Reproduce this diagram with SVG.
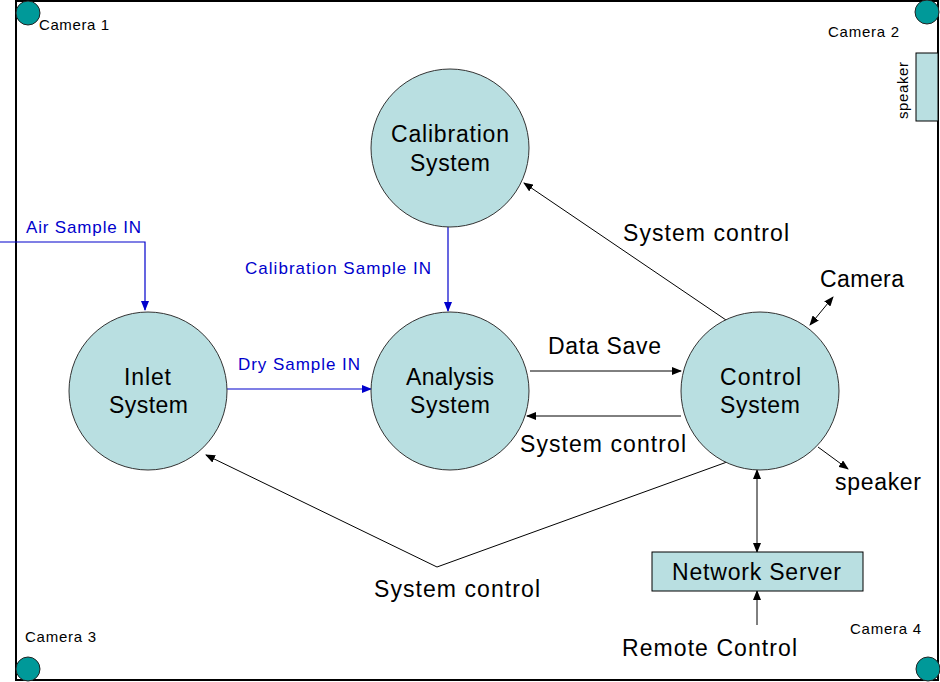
<svg xmlns="http://www.w3.org/2000/svg" width="940" height="682" viewBox="0 0 940 682">
<style>
.t{font-family:"Liberation Sans",Arial,sans-serif;fill:#000}
.n{font-size:23px}
.b{font-size:17px;fill:#0000cc}
.c{font-size:15px}
.node{fill:#b9dfe1;stroke:#333;stroke-width:1}
.cam{fill:#009999;stroke:#222;stroke-width:1}
.k{stroke:#000;stroke-width:1;fill:none}
.bl{stroke:#0000cc;stroke-width:1.2;fill:none}
</style>
<defs>
<marker id="ak" markerWidth="10" markerHeight="8" refX="9" refY="4" orient="auto-start-reverse" markerUnits="userSpaceOnUse"><path d="M0,0 L10,4 L0,8 Z" fill="#000"/></marker>
<marker id="ab" markerWidth="10" markerHeight="8" refX="9" refY="4" orient="auto" markerUnits="userSpaceOnUse"><path d="M0,0 L10,4 L0,8 Z" fill="#0000cc"/></marker>
</defs>
<rect width="940" height="682" fill="#fff"/>
<rect id="frame" x="16" y="1" width="922" height="679" fill="none" stroke="#000" stroke-width="2"/>

<g id="cameras">
<circle class="cam" cx="28" cy="13" r="12"/>
<circle class="cam" cx="927" cy="12" r="12"/>
<circle class="cam" cx="28" cy="669" r="12"/>
<circle class="cam" cx="928" cy="669" r="12"/>
<text class="t c" x="39" y="30" textLength="70">Camera 1</text>
<text class="t c" x="828" y="37" textLength="71">Camera 2</text>
<text class="t c" x="25" y="642" textLength="71">Camera 3</text>
<text class="t c" x="850" y="634" textLength="71">Camera 4</text>
</g>

<g id="speaker-box">
<rect x="916" y="53" width="22" height="68" fill="#b9dfe1" stroke="#000" stroke-width="1"/>
<text class="t c" transform="translate(908,119) rotate(-90)" textLength="57">speaker</text>
</g>

<g id="connectors">
<polyline class="bl" points="0,242 145,242 145,310" marker-end="url(#ab)"/>
<line class="bl" x1="448" y1="227" x2="448" y2="311" marker-end="url(#ab)"/>
<line class="bl" x1="227" y1="389" x2="371" y2="389" marker-end="url(#ab)"/>
<line class="k" x1="530" y1="371" x2="681" y2="371" marker-end="url(#ak)"/>
<line class="k" x1="681" y1="416" x2="527" y2="416" marker-end="url(#ak)"/>
<line class="k" x1="726" y1="320" x2="524" y2="183" marker-end="url(#ak)"/>
<polyline class="k" points="727,462 437,567 206,455" marker-end="url(#ak)"/>
<line class="k" x1="810" y1="325" x2="833" y2="297" marker-start="url(#ak)" marker-end="url(#ak)"/>
<line class="k" x1="818" y1="447" x2="848" y2="469" marker-end="url(#ak)"/>
<line class="k" x1="757" y1="470" x2="757" y2="552" marker-start="url(#ak)" marker-end="url(#ak)"/>
<line class="k" x1="757" y1="625" x2="757" y2="591" marker-end="url(#ak)"/>
</g>

<g id="labels">
<text class="t b" x="26" y="233" textLength="115">Air Sample IN</text>
<text class="t b" x="245" y="274" textLength="186">Calibration Sample IN</text>
<text class="t b" x="238" y="370" textLength="122">Dry Sample IN</text>
<text class="t n" x="548" y="354" textLength="113">Data Save</text>
<text class="t n" x="520" y="452" textLength="166">System control</text>
<text class="t n" x="623" y="241" textLength="166">System control</text>
<text class="t n" x="374" y="597" textLength="166">System control</text>
<text class="t n" x="820" y="287" textLength="84">Camera</text>
<text class="t n" x="835" y="490" textLength="86">speaker</text>
<text class="t n" x="622" y="656" textLength="175">Remote Control</text>
</g>

<g id="calibration">
<circle class="node" cx="450" cy="148" r="79"/>
<text class="t n" x="391" y="142" textLength="118">Calibration</text>
<text class="t n" x="410" y="171" textLength="80">System</text>
</g>
<g id="inlet">
<circle class="node" cx="148" cy="391" r="79"/>
<text class="t n" x="124" y="385" textLength="47">Inlet</text>
<text class="t n" x="109" y="413" textLength="79">System</text>
</g>
<g id="analysis">
<circle class="node" cx="450" cy="391" r="79"/>
<text class="t n" x="406" y="385" textLength="88">Analysis</text>
<text class="t n" x="410" y="413" textLength="80">System</text>
</g>
<g id="control">
<circle class="node" cx="760" cy="391" r="79"/>
<text class="t n" x="720" y="385" textLength="81">Control</text>
<text class="t n" x="720" y="413" textLength="80">System</text>
</g>
<g id="network-server">
<rect x="652" y="552" width="211" height="39" fill="#b9dfe1" stroke="#000" stroke-width="1"/>
<text class="t n" x="672" y="580" textLength="169">Network Server</text>
</g>
</svg>
